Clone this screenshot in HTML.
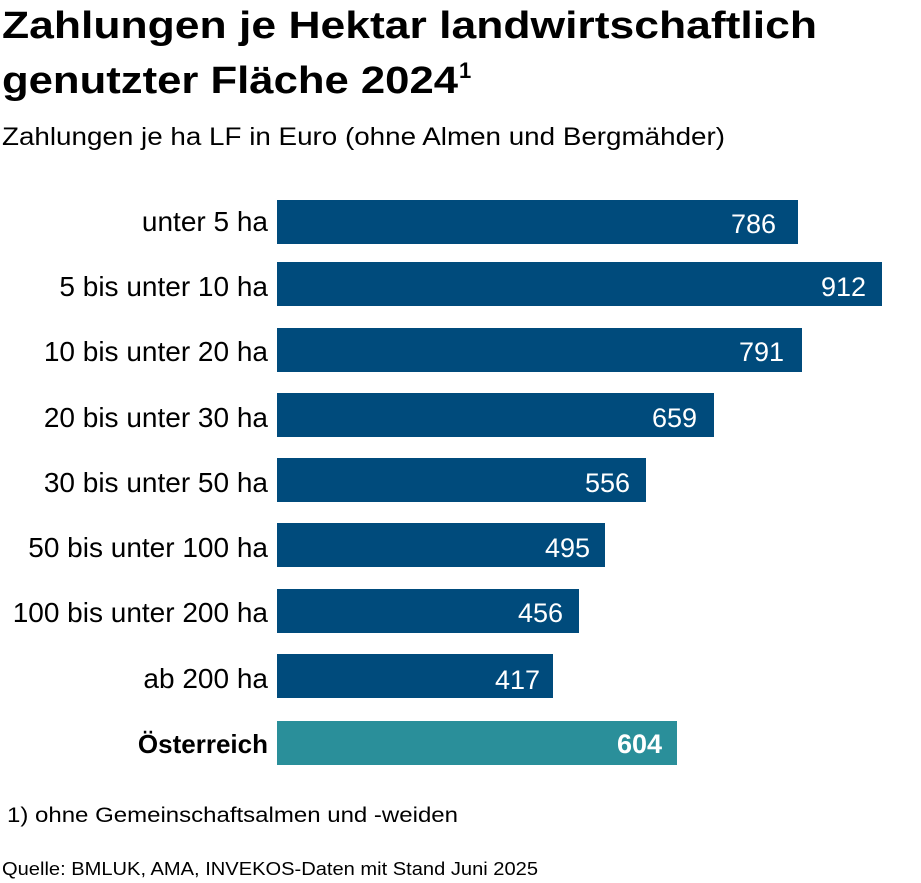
<!DOCTYPE html>
<html><head><meta charset="utf-8"><style>
html,body{margin:0;padding:0;background:#fff;}
svg{display:block;font-family:"Liberation Sans",sans-serif;}
</style></head><body>
<svg width="921" height="883" viewBox="0 0 921 883" xmlns="http://www.w3.org/2000/svg">
<text x="2" y="38" font-size="38" font-weight="bold" textLength="815" lengthAdjust="spacingAndGlyphs">Zahlungen je Hektar landwirtschaftlich</text>
<text x="2" y="93" font-size="38" font-weight="bold" textLength="456" lengthAdjust="spacingAndGlyphs">genutzter Fläche 2024</text>
<text x="459" y="78" font-size="22" font-weight="bold">1</text>
<text x="2" y="145" font-size="25" textLength="723" lengthAdjust="spacingAndGlyphs">Zahlungen je ha LF in Euro (ohne Almen und Bergmähder)</text>
<g font-size="28" text-anchor="end">
<text x="268" y="231">unter 5 ha</text>
<text x="268" y="296">5 bis unter 10 ha</text>
<text x="268" y="361">10 bis unter 20 ha</text>
<text x="268" y="427">20 bis unter 30 ha</text>
<text x="268" y="492">30 bis unter 50 ha</text>
<text x="268" y="557">50 bis unter 100 ha</text>
<text x="268" y="622">100 bis unter 200 ha</text>
<text x="268" y="688">ab 200 ha</text>
<text x="268" y="753" font-weight="bold" font-size="26">Österreich</text>
</g>
<g fill="#004b7c">
<rect x="277" y="200" width="521" height="44"/>
<rect x="277" y="262" width="605" height="44"/>
<rect x="277" y="328" width="525" height="44"/>
<rect x="277" y="393" width="437" height="44"/>
<rect x="277" y="458" width="369" height="44"/>
<rect x="277" y="523" width="328" height="44"/>
<rect x="277" y="589" width="302" height="44"/>
<rect x="277" y="654" width="276" height="44"/>
</g>
<rect x="277" y="721" width="400" height="44" fill="#2a8f9a"/>
<g font-size="27" fill="#fff" text-anchor="end">
<text x="776" y="233">786</text>
<text x="866" y="296">912</text>
<text x="784" y="361">791</text>
<text x="697" y="427">659</text>
<text x="630" y="492">556</text>
<text x="590" y="557">495</text>
<text x="563" y="622">456</text>
<text x="540" y="689">417</text>
<text x="662" y="753" font-weight="bold">604</text>
</g>
<text x="7" y="822" font-size="21" textLength="451" lengthAdjust="spacingAndGlyphs">1) ohne Gemeinschaftsalmen und -weiden</text>
<text x="2" y="875" font-size="18" textLength="536" lengthAdjust="spacingAndGlyphs">Quelle: BMLUK, AMA, INVEKOS-Daten mit Stand Juni 2025</text>
</svg>
</body></html>
